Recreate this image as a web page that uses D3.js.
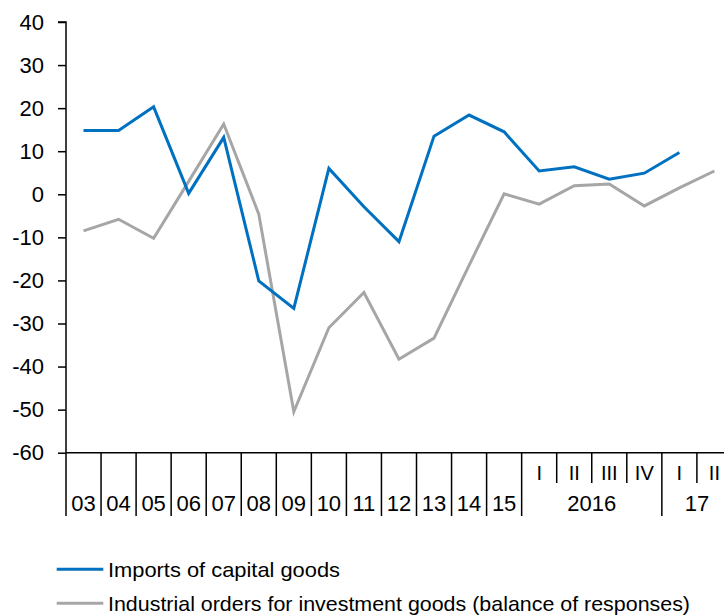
<!DOCTYPE html>
<html><head><meta charset="utf-8">
<script src="https://cdn.jsdelivr.net/npm/d3@7"></script>
<style>body{margin:0;background:#fff}svg{display:block}text{font-family:Arial,"Liberation Sans",sans-serif;fill:#000}</style>
</head><body><svg id="c" width="724" height="616"></svg>
<script>
const categories = ["03","04","05","06","07","08","09","10","11","12","13","14","15","2016-I","2016-II","2016-III","2016-IV","2017-I","2017-II"];
const catLabels = ["03","04","05","06","07","08","09","10","11","12","13","14","15","I","II","III","IV","I","II"];
const groups = [{label:"2016", from:13, to:16},{label:"17", from:17, to:18}];
const imports = [14.8,14.8,20.3,0.2,13.2,-20.1,-26.5,6.0,-2.9,-11.0,13.5,18.4,14.5,5.4,6.4,3.5,4.9,9.7,null];
const orders = [-8.5,-5.8,-10.2,3.0,16.3,-4.6,-50.5,-31.0,-22.8,-38.3,-33.4,-16.5,0.1,-2.3,2.0,2.4,-2.7,1.5,5.4];
const yTicks = [40,30,20,10,0,-10,-20,-30,-40,-50,-60];
const seriesNames = ["Imports of capital goods","Industrial orders for investment goods (balance of responses)"];
const colors = ["#0070C0","#A6A6A6"];

const svg = d3.select("#c");
const x0 = 66, bw = 35.05;
const x = d3.scaleBand().domain(categories).range([x0, x0 + bw*categories.length]).padding(0);
const y = d3.scaleLinear().domain([-60,40]).range([452.7,22]);

// y axis
const yAxis = d3.axisLeft(y).tickValues(yTicks).tickSize(8).tickPadding(14).tickFormat(d => String(d));
const gy = svg.append("g").attr("transform",`translate(${x0},0)`).call(yAxis);
gy.select(".domain").attr("stroke","#000").attr("stroke-width",1.5).attr("d",`M-8,${y(40)}H0V${y(-60)}`);
gy.selectAll(".tick line").attr("stroke","#000").attr("stroke-width",1.5);
gy.selectAll(".tick text").style("font-size","22px").attr("font-family","Arial, Liberation Sans, sans-serif").attr("fill","#000");

// x axis baseline
const yb = y(-60);
svg.append("line").attr("x1",x0).attr("x2",724).attr("y1",yb).attr("y2",yb).attr("stroke","#000").attr("stroke-width",1.5);

// separators
categories.forEach((c,i)=>{
  if(i===0) return;
  const xs = x(c);
  const inGroup = groups.some(g=> i>g.from && i<=g.to);
  svg.append("line").attr("x1",xs).attr("x2",xs).attr("y1",yb).attr("y2",inGroup?483:516)
    .attr("stroke","#000").attr("stroke-width",1.5);
});
svg.append("line").attr("x1",x0).attr("x2",x0).attr("y1",yb).attr("y2",516).attr("stroke","#000").attr("stroke-width",1.5);

// category labels
categories.forEach((c,i)=>{
  const quarter = i>=13;
  svg.append("text").attr("x",x(c)+x.bandwidth()/2).attr("y",quarter?480:511)
    .attr("text-anchor","middle").style("font-size",quarter?"20px":"22px").text(catLabels[i]);
});
groups.forEach(g=>{
  const xa = x(categories[g.from]), xb = x(categories[g.to])+x.bandwidth();
  svg.append("text").attr("x",(xa+xb)/2).attr("y",511).attr("text-anchor","middle").style("font-size","22px").text(g.label);
});

// lines
const line = d3.line().defined(d=>d.v!==null).x(d=>x(d.c)+x.bandwidth()/2).y(d=>y(d.v));
[orders, imports].forEach((arr,k)=>{
  const col = k===0?colors[1]:colors[0];
  svg.append("path").datum(arr.map((v,i)=>({c:categories[i],v})))
    .attr("fill","none").attr("stroke",col).attr("stroke-width",3).attr("stroke-linejoin","miter").attr("d",line);
});

// legend
const leg = [[569.3,0,232],[603.3,1,582]];
leg.forEach(([ly,k,w])=>{
  svg.append("line").attr("x1",56.7).attr("x2",103.3).attr("y1",ly).attr("y2",ly).attr("stroke",colors[k]).attr("stroke-width",3);
  svg.append("text").attr("x",108).attr("y",ly+7.5).style("font-size","21px")
    .attr("textLength",w).attr("lengthAdjust","spacingAndGlyphs").text(seriesNames[k]);
});
</script></body></html>
